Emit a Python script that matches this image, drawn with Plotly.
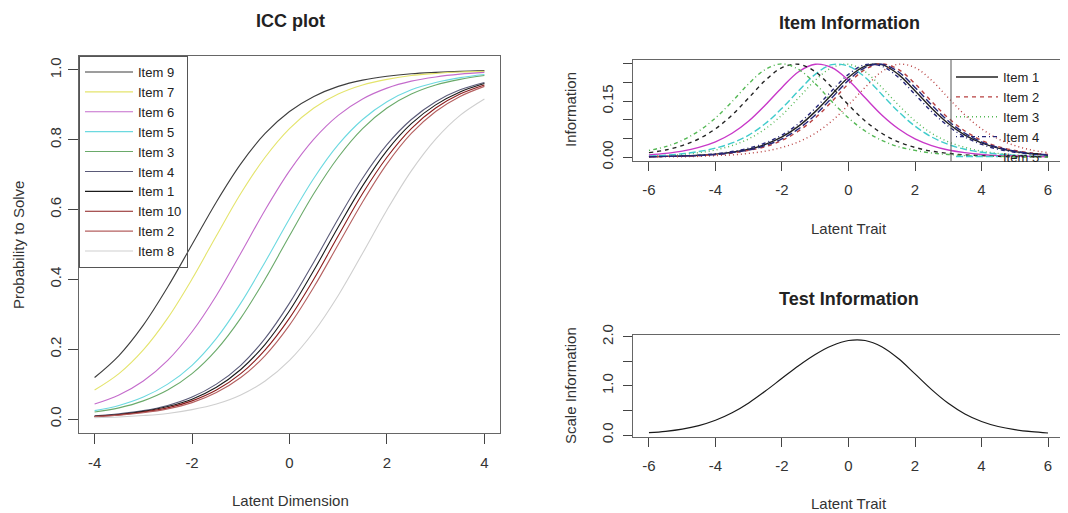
import plotly.graph_objects as go

# ---------------- data ----------------
# ICC plot: probability to solve, theta from -4 to 4 in steps of 0.5
icc_theta = [-4, -3.5, -3, -2.5, -2, -1.5, -1, -0.5, 0, 0.5, 1, 1.5, 2, 2.5, 3, 3.5, 4]
icc_items = ["Item 9", "Item 7", "Item 6", "Item 5", "Item 3",
             "Item 4", "Item 1", "Item 10", "Item 2", "Item 8"]
icc_colors = ["#3d3d3d", "#e4e46c", "#c46ccc", "#6cd9e0", "#6aaa6a",
              "#5a5a78", "#1a1a1a", "#8b1c1c", "#b56060", "#cfcfcf"]
icc_item9 = [.119, .182, .269, .378, .500, .622, .731, .818, .881, .924, .953, .971, .982, .989, .993, .996, .998]
icc_item7 = [.083, .130, .198, .289, .401, .525, .646, .750, .832, .891, .931, .957, .973, .984, .990, .994, .996]
icc_item6 = [.043, .069, .109, .168, .250, .354, .475, .599, .711, .802, .870, .917, .948, .968, .980, .988, .993]
icc_item5 = [.024, .039, .063, .100, .154, .231, .332, .450, .574, .690, .786, .858, .909, .943, .964, .978, .987]
icc_item3 = [.020, .032, .052, .083, .130, .198, .289, .401, .525, .646, .750, .832, .891, .931, .957, .973, .984]
icc_item4 = [.009, .015, .024, .039, .063, .100, .154, .231, .332, .450, .574, .690, .786, .858, .909, .943, .964]
icc_item1 = [.008, .013, .022, .036, .057, .091, .142, .214, .310, .426, .550, .668, .769, .846, .900, .937, .961]
icc_item10 = [.007, .012, .020, .032, .052, .083, .130, .198, .289, .401, .525, .646, .750, .832, .891, .931, .957]
icc_item2 = [.007, .011, .018, .029, .047, .076, .119, .182, .269, .378, .500, .622, .731, .818, .881, .924, .953]
icc_item8 = [.004, .006, .010, .016, .027, .043, .069, .109, .168, .250, .354, .475, .599, .711, .802, .870, .917]
icc_values = [icc_item9, icc_item7, icc_item6, icc_item5, icc_item3,
              icc_item4, icc_item1, icc_item10, icc_item2, icc_item8]

# Item information, theta from -6 to 6 in steps of 0.5
info_theta = [-6, -5.5, -5, -4.5, -4, -3.5, -3, -2.5, -2, -1.5, -1, -0.5, 0,
              0.5, 1, 1.5, 2, 2.5, 3, 3.5, 4, 4.5, 5, 5.5, 6]
info_items = ["Item 1", "Item 2", "Item 3", "Item 4", "Item 5",
              "Item 6", "Item 7", "Item 8", "Item 9", "Item 10"]
info_colors = ["#222222", "#b84040", "#55b855", "#262678", "#40cccc",
               "#c838c8", "#222222", "#b84040", "#55b855", "#262678"]
info_dashes = ["solid", "4px,4px", "1px,3px", "1px,3px,4px,3px", "7px,3px",
               "solid", "4px,4px", "1px,3px", "1px,3px,4px,3px", "7px,3px"]
info_item1 = [.001, .002, .003, .005, .008, .013, .021, .034, .054, .083, .122, .168, .214,
              .244, .248, .222, .178, .131, .090, .059, .038, .024, .015, .009, .005]
info_item2 = [.001, .002, .002, .004, .007, .011, .018, .028, .045, .070, .105, .149, .197,
              .235, .250, .235, .197, .149, .105, .070, .045, .028, .018, .011, .007]
info_item3 = [.003, .004, .007, .012, .019, .031, .049, .076, .113, .159, .206, .240, .249,
              .229, .187, .140, .097, .064, .041, .026, .016, .010, .006, .004, .002]
info_item4 = [.001, .002, .003, .005, .009, .015, .024, .038, .059, .090, .131, .178, .222,
              .248, .244, .214, .168, .122, .083, .054, .034, .021, .013, .008, .005]
info_item5 = [.003, .005, .009, .015, .024, .038, .059, .090, .131, .178, .222, .248, .244,
              .214, .168, .122, .083, .054, .034, .021, .013, .008, .005, .003, .002]
info_item6 = [.006, .010, .016, .026, .041, .064, .097, .140, .187, .229, .249, .240, .206,
              .159, .113, .076, .049, .031, .019, .012, .007, .004, .003, .002, .001]
info_item7 = [.012, .019, .031, .049, .076, .113, .159, .206, .240, .249, .229, .187, .140,
              .097, .064, .041, .026, .016, .010, .006, .004, .002, .001, .001, .001]
info_item8 = [.001, .001, .001, .002, .004, .006, .010, .016, .026, .041, .064, .097, .140,
              .187, .229, .249, .240, .206, .159, .113, .076, .049, .031, .019, .012]
info_item9 = [.018, .028, .045, .070, .105, .149, .197, .235, .250, .235, .197, .149, .105,
              .070, .045, .028, .018, .011, .007, .004, .002, .002, .001, .001, .000]
info_item10 = [.001, .002, .003, .004, .007, .012, .019, .031, .049, .076, .113, .159, .206,
               .240, .249, .229, .187, .140, .097, .064, .041, .026, .016, .010, .006]
info_values = [info_item1, info_item2, info_item3, info_item4, info_item5,
               info_item6, info_item7, info_item8, info_item9, info_item10]

# Test information (scale information)
test_info = [.047, .075, .120, .192, .300, .452, .653, .894, 1.154, 1.410, 1.638, 1.815, 1.923,
             1.923, 1.797, 1.556, 1.243, .924, .645, .429, .276, .174, .109, .068, .041]

# tick labels (R style, plain hyphen minus)
icc_xticks = [-4, -2, 0, 2, 4]
icc_xtext = ["-4", "-2", "0", "2", "4"]
icc_yticks = [0, 0.2, 0.4, 0.6, 0.8, 1.0]
icc_ytext = ["0.0", "0.2", "0.4", "0.6", "0.8", "1.0"]
info_xticks = [-6, -4, -2, 0, 2, 4, 6]
info_xtext = ["-6", "-4", "-2", "0", "2", "4", "6"]
info_yticks = [0, 0.05, 0.10, 0.15, 0.20, 0.25]
info_ytext = ["0.00", "", "", "0.15", "", ""]
test_yticks = [0, 0.5, 1.0, 1.5, 2.0]
test_ytext = ["0.0", "", "1.0", "", "2.0"]

FONT = "Liberation Sans, Arial, sans-serif"
W, H = 1068, 513
OFF = 8  # page body margin shifts the figure by this many pixels

fig = go.Figure()

for name, col, vals in zip(icc_items, icc_colors, icc_values):
    fig.add_trace(go.Scatter(x=icc_theta, y=vals, mode="lines", name=name,
                             line=dict(color=col, width=1.1, shape="spline"),
                             xaxis="x", yaxis="y", legend="legend"))

for i, (name, col, dash, vals) in enumerate(zip(info_items, info_colors, info_dashes, info_values)):
    fig.add_trace(go.Scatter(x=info_theta, y=vals, mode="lines", name=name,
                             line=dict(color=col, width=1.4, dash=dash, shape="spline"),
                             xaxis="x2", yaxis="y2", legend="legend2", showlegend=i < 5))

fig.add_trace(go.Scatter(x=info_theta, y=test_info, mode="lines", showlegend=False,
                         line=dict(color="#1a1a1a", width=1.2, shape="spline"),
                         xaxis="x3", yaxis="y3"))


def px_x(p):
    return (p - OFF) / W


def px_y(p):
    return 1 - (p - OFF) / H


axis_common = dict(showline=True, mirror=True, linecolor="#666", linewidth=1,
                   showgrid=False, zeroline=False, ticks="outside", tickcolor="#444",
                   automargin=False,
                   tickfont=dict(family=FONT, size=15, color="#333"))

fig.update_layout(
    width=W, height=H,
    margin=dict(l=0, r=0, t=0, b=0),
    paper_bgcolor="white", plot_bgcolor="white",
    font=dict(family=FONT, color="#333"),
    xaxis=dict(domain=[px_x(79), px_x(500)], range=[-4.32, 4.32], anchor="y",
               tickvals=icc_xticks, ticktext=icc_xtext, ticklen=10, ticklabelstandoff=6,
               **axis_common),
    yaxis=dict(domain=[px_y(433), px_y(56)], range=[-0.04, 1.04], anchor="x",
               tickvals=icc_yticks, ticktext=icc_ytext, tickangle=-90, ticklen=10,
               ticklabelstandoff=1, **axis_common),
    xaxis2=dict(domain=[px_x(633), px_x(1064)], range=[-6.48, 6.48], anchor="y2",
                tickvals=info_xticks, ticktext=info_xtext, ticklen=9, ticklabelstandoff=6,
                **axis_common),
    yaxis2=dict(domain=[px_y(161), px_y(60)], range=[-0.0104, 0.2604], anchor="x2",
                tickvals=info_yticks, ticktext=info_ytext, tickangle=-90, ticklen=9,
                ticklabelstandoff=4, **axis_common),
    xaxis3=dict(domain=[px_x(633), px_x(1064)], range=[-6.48, 6.48], anchor="y3",
                tickvals=info_xticks, ticktext=info_xtext, ticklen=9, ticklabelstandoff=6,
                **axis_common),
    yaxis3=dict(domain=[px_y(437), px_y(335)], range=[-0.04, 2.035], anchor="x3",
                tickvals=test_yticks, ticktext=test_ytext, tickangle=-90, ticklen=9,
                ticklabelstandoff=4, **axis_common),
    legend=dict(x=px_x(79), y=px_y(56), xanchor="left", yanchor="top",
                bgcolor="rgba(0,0,0,0)", bordercolor="#555", borderwidth=1,
                font=dict(family=FONT, size=13, color="#222"), itemwidth=48),
    legend2=dict(x=px_x(951), y=px_y(62), xanchor="left", yanchor="top",
                 bgcolor="rgba(0,0,0,0)", borderwidth=0,
                 font=dict(family=FONT, size=13, color="#222"), itemwidth=42),
    shapes=[dict(type="line", xref="x2 domain", yref="y2 domain",
                 x0=(951 - 633) / (1064 - 633), x1=(951 - 633) / (1064 - 633), y0=0, y1=1,
                 line=dict(color="#555", width=1))],
)

titles = [
    ("<b>ICC plot</b>", 290, 21, 18, 0),
    ("<b>Item Information</b>", 849, 23, 18, 0),
    ("<b>Test Information</b>", 849, 299, 18, 0),
    ("Latent Dimension", 290, 500, 15, 0),
    ("Probability to Solve", 18, 245, 15, -90),
    ("Latent Trait", 849, 228, 15, 0),
    ("Information", 570, 110, 15, -90),
    ("Latent Trait", 849, 503, 15, 0),
    ("Scale Information", 570, 386, 15, -90),
]
for text, x, y, size, ang in titles:
    fig.add_annotation(text=text, x=px_x(x), y=px_y(y), xref="paper", yref="paper",
                       showarrow=False, textangle=ang, xanchor="center", yanchor="middle",
                       font=dict(family=FONT, size=size, color="#222" if size == 18 else "#333"))

fig.write_html("out.html")
